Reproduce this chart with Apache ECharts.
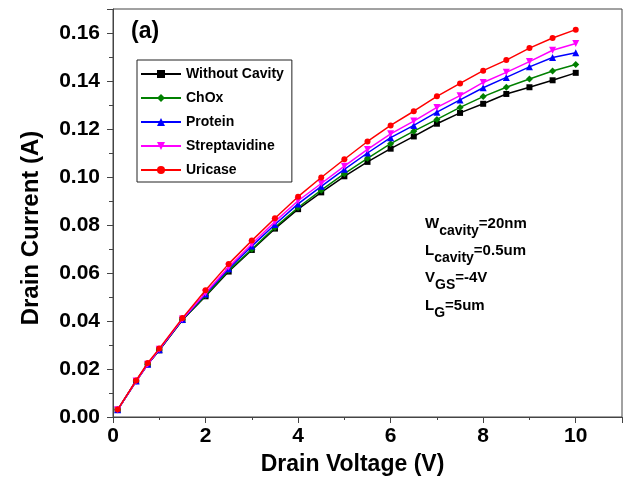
<!DOCTYPE html>
<html>
<head>
<meta charset="utf-8">
<script src="https://cdn.jsdelivr.net/npm/echarts@6/dist/echarts.min.js"></script>
<style>
  html, body { margin: 0; padding: 0; background: #fff; }
  #chart { width: 628px; height: 481px; }
</style>
</head>
<body>
<div id="chart"></div>
<script>
// drain voltage (V)
var vd = [0.1, 0.5, 0.75, 1, 1.5, 2, 2.5, 3, 3.5, 4, 4.5, 5, 5.5, 6, 6.5, 7, 7.5, 8, 8.5, 9, 9.5, 10];

// drain current (A)
var withoutCavity = [0.003, 0.015, 0.022, 0.0278, 0.0404, 0.0503, 0.0606, 0.0696, 0.0785, 0.0866, 0.0936, 0.1003, 0.1063, 0.1118, 0.1169, 0.1222, 0.1267, 0.1305, 0.1346, 0.1374, 0.1403, 0.1434];
var chox = [0.003, 0.015, 0.022, 0.0279, 0.0405, 0.0506, 0.0611, 0.0699, 0.079, 0.0873, 0.0945, 0.1014, 0.1078, 0.1139, 0.1191, 0.124, 0.129, 0.1335, 0.1374, 0.1408, 0.1442, 0.1469];
var protein = [0.003, 0.015, 0.022, 0.028, 0.0406, 0.0512, 0.0618, 0.0712, 0.0802, 0.0888, 0.0961, 0.1032, 0.11, 0.1164, 0.1215, 0.127, 0.1321, 0.1372, 0.1415, 0.1459, 0.1498, 0.1518];
var streptavidine = [0.003, 0.015, 0.022, 0.0282, 0.0408, 0.0517, 0.0625, 0.0721, 0.0814, 0.0901, 0.0973, 0.1045, 0.1115, 0.118, 0.1233, 0.129, 0.1339, 0.1394, 0.1436, 0.1481, 0.1528, 0.1556];
var uricase = [0.0031, 0.0152, 0.0225, 0.0285, 0.0412, 0.0528, 0.0638, 0.0735, 0.0828, 0.0918, 0.0998, 0.1074, 0.1148, 0.1215, 0.1274, 0.1336, 0.139, 0.1443, 0.1487, 0.1537, 0.1579, 0.1614];

var names = ['Without Cavity', 'ChOx', 'Protein', 'Streptavidine', 'Uricase'];
var colors = ['#000000', '#008000', '#0000ff', '#ff00ff', '#ff0000'];
var symbols = ['rect', 'diamond', 'triangle', 'path://M0,0 L10,0 L5,9 Z', 'circle'];
var sizes = [6, 7, 7, 7, 6];
var allData = [withoutCavity, chox, protein, streptavidine, uricase];

// text box: [main, subscript, rest]
var notes = [['W', 'cavity', '=20nm'], ['L', 'cavity', '=0.5um'], ['V', 'GS', '=-4V'], ['L', 'G', '=5um']];

var font = 'Liberation Sans, Arial, sans-serif';

function pairs(ys) {
  var out = [];
  for (var i = 0; i < vd.length; i++) {
    out.push([vd[i], ys[i]]);
  }
  return out;
}

var series = [];
for (var k = 0; k < names.length; k++) {
  series.push({
    name: names[k],
    type: 'line',
    data: pairs(allData[k]),
    symbol: symbols[k],
    symbolSize: sizes[k],
    showAllSymbol: true,
    lineStyle: { color: colors[k], width: 1.5 },
    itemStyle: { color: colors[k] },
    z: 2 + k
  });
}

var sub = { fontSize: 14, fontWeight: 'bold', fontFamily: font, color: '#000', lineHeight: 22, verticalAlign: 'bottom' };
var main = { fontSize: 15, fontWeight: 'bold', fontFamily: font, color: '#000', lineHeight: 15, verticalAlign: 'top' };

var graphics = [{
  type: 'text', left: 131, top: 20,
  style: { text: '(a)', fontSize: 23, fontWeight: 'bold', fontFamily: font, fill: '#000' }
}];
for (var n = 0; n < notes.length; n++) {
  graphics.push({
    type: 'text', left: 425, top: 216 + n * 27.3,
    style: {
      text: '{m|' + notes[n][0] + '}{s|' + notes[n][1] + '}{m|' + notes[n][2] + '}',
      rich: { m: main, s: sub }
    }
  });
}

var chart = echarts.init(document.getElementById('chart'));

var option = {
  backgroundColor: '#fff',
  animation: false,
  grid: {
    left: 113, right: 6, top: 9, bottom: 63,
    show: true, borderColor: '#444', borderWidth: 1
  },
  legend: {
    data: names,
    orient: 'vertical',
    left: 137, top: 60,
    itemWidth: 40, itemHeight: 10,
    itemGap: 10,
    padding: [7, 8, 5, 3],
    borderColor: '#222', borderWidth: 1,
    textStyle: { fontSize: 14, fontWeight: 'bold', fontFamily: font, color: '#000' }
  },
  xAxis: {
    type: 'value',
    min: 0, max: 11, interval: 2,
    name: 'Drain Voltage (V)',
    nameLocation: 'middle',
    nameGap: 36,
    nameTextStyle: { fontSize: 23, fontWeight: 'bold', fontFamily: font, color: '#000', padding: [0, 30, 0, 0] },
    axisLine: { lineStyle: { color: '#444', width: 1 } },
    axisTick: { inside: false, length: 6, lineStyle: { color: '#444' } },
    minorTick: { show: true, splitNumber: 2, length: 3, lineStyle: { color: '#444' } },
    axisLabel: { fontSize: 21, fontWeight: 'bold', fontFamily: font, color: '#000', margin: 9, showMaxLabel: false },
    splitLine: { show: false }
  },
  yAxis: {
    type: 'value',
    min: 0, max: 0.17, interval: 0.02,
    name: 'Drain Current (A)',
    nameLocation: 'middle',
    nameGap: 70,
    nameTextStyle: { fontSize: 24, fontWeight: 'bold', fontFamily: font, color: '#000', padding: [0, 30, 0, 0] },
    axisLine: { lineStyle: { color: '#444', width: 1 } },
    axisTick: { inside: false, length: 6, lineStyle: { color: '#444' } },
    minorTick: { show: true, splitNumber: 2, length: 4, lineStyle: { color: '#444' } },
    axisLabel: {
      fontSize: 21, fontWeight: 'bold', fontFamily: font, color: '#000', margin: 13,
      formatter: function (v) { return v.toFixed(2); },
      showMaxLabel: false
    },
    splitLine: { show: false }
  },
  graphic: graphics,
  series: series
};

chart.setOption(option);
</script>
</body>
</html>
